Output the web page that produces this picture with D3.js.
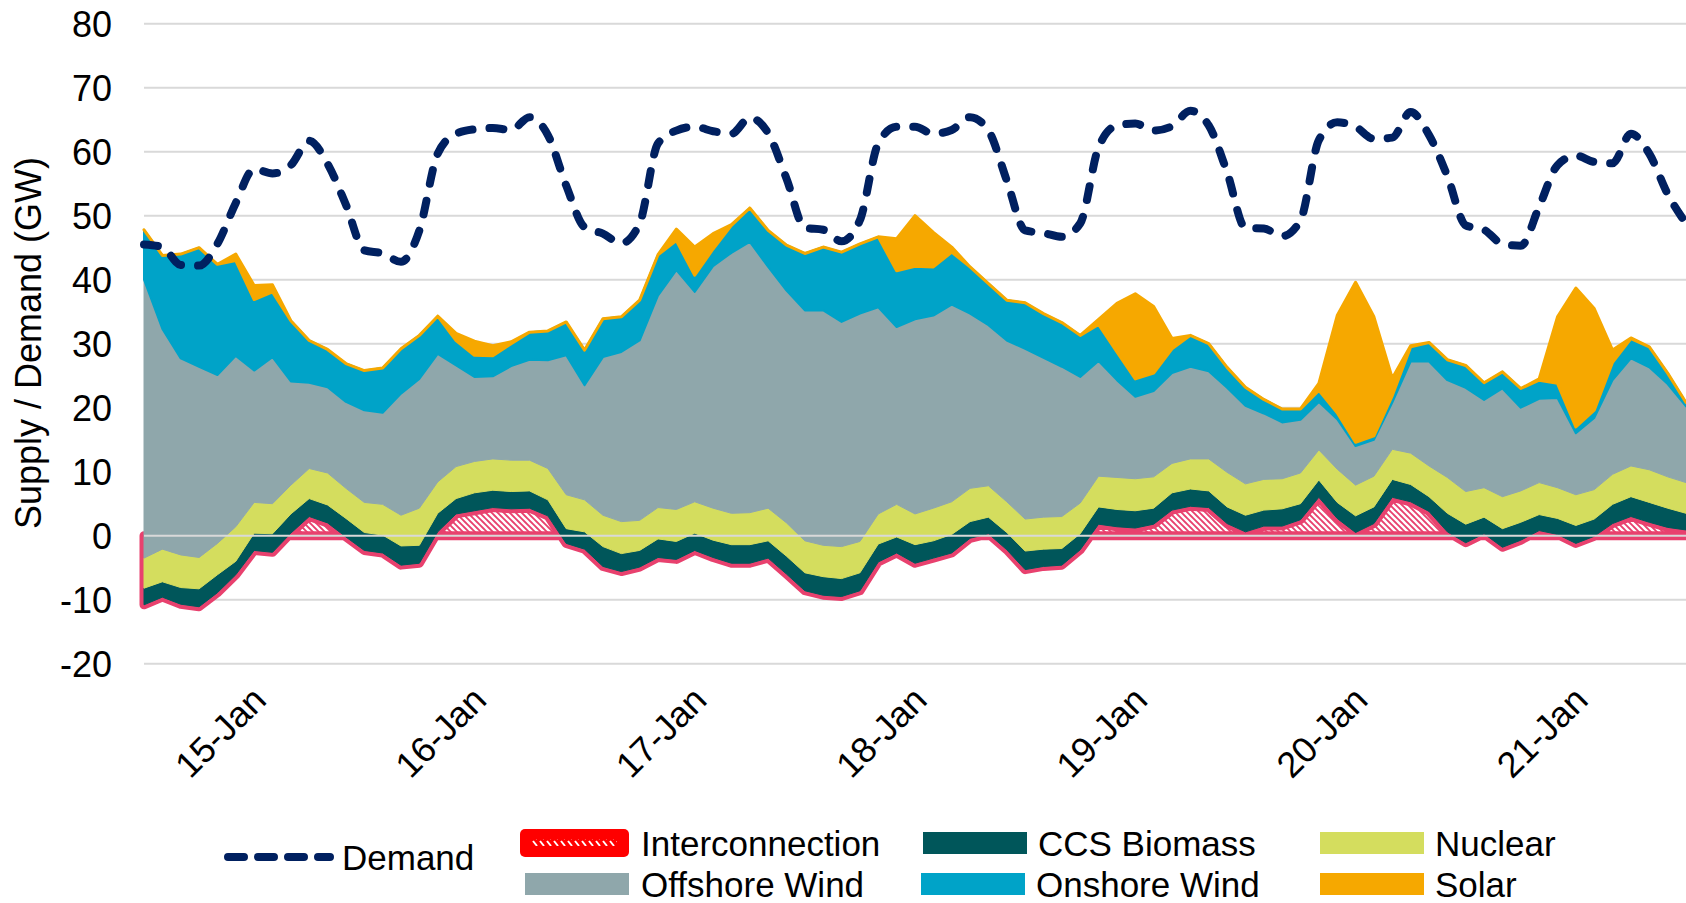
<!DOCTYPE html>
<html>
<head>
<meta charset="utf-8">
<script src="https://cdn.jsdelivr.net/npm/d3@7/dist/d3.min.js"></script>
<style>
  body { margin: 0; background: #fff; }
  text { font-family: "Liberation Sans", Arial, sans-serif; fill: #000; }
</style>
</head>
<body>
<svg id="chart"></svg>
<script>
// hours since 15-Jan 00:00, one point every 2 hours
var hours = d3.range(0, 169, 2);

var dayLabels = ["15-Jan", "16-Jan", "17-Jan", "18-Jan", "19-Jan", "20-Jan", "21-Jan"];
var yTicks = [-20, -10, 0, 10, 20, 30, 40, 50, 60, 70, 80];

// GW
var interconnection = [-10.8, -9.6, -10.7, -11.1, -8.9, -6.1, -2.3, -2.6, 0.4, 3.0,
  2.0, -0.2, -2.3, -2.7, -4.6, -4.3, 0.6, 3.4, 3.9, 4.4,
  4.2, 4.3, 3.1, -1.2, -2.1, -4.8, -5.6, -4.9, -3.4, -3.7,
  -2.3, -3.4, -4.3, -4.3, -3.5, -6.0, -8.6, -9.3, -9.5, -8.6,
  -4.1, -2.7, -4.3, -3.5, -2.7, -0.4, 0.3, -2.2, -5.3, -4.8,
  -4.6, -2.2, 1.8, 1.4, 1.2, 1.8, 4.0, 4.6, 4.4, 1.9,
  0.6, 1.5, 1.5, 2.5, 6.0, 2.7, 0.5, 1.9, 6.0, 5.3,
  3.8, 0.6, -1.1, 0.3, -1.8, -0.7, 0.8, 0.2, -1.2, -0.1,
  1.9, 3.0, 2.1, 1.3, 0.9];

var ccsBiomass = [2.6, 2.4, 2.6, 2.8, 2.8, 2.1, 2.7, 2.9, 3.0, 2.8,
  2.8, 2.9, 2.8, 2.8, 3.0, 2.8, 2.9, 2.4, 2.8, 2.7,
  2.7, 2.7, 2.5, 2.3, 2.7, 3.1, 2.8, 2.6, 2.9, 2.8,
  2.7, 2.7, 2.9, 2.9, 2.7, 2.8, 2.8, 2.9, 2.8, 2.8,
  2.8, 2.5, 2.9, 2.7, 2.9, 2.6, 2.6, 2.7, 2.9, 2.7,
  2.6, 2.5, 2.7, 2.7, 2.7, 2.5, 2.7, 2.7, 2.6, 2.6,
  2.6, 2.5, 2.7, 2.5, 2.7, 2.5, 2.6, 2.6, 2.8, 2.7,
  2.3, 2.9, 2.9, 2.6, 2.9, 2.8, 2.5, 2.5, 2.8, 2.7,
  3.0, 3.1, 3.1, 3.0, 2.6];

var nuclear = [4.7, 5.1, 5.1, 4.9, 4.9, 5.4, 4.8, 4.7, 4.5, 4.7,
  5.0, 4.7, 4.7, 4.8, 4.8, 5.8, 4.9, 5.0, 4.9, 4.9,
  4.9, 4.8, 4.9, 5.3, 5.0, 4.9, 5.0, 4.7, 4.9, 5.0,
  4.9, 5.0, 4.9, 5.0, 5.1, 5.2, 5.0, 4.9, 5.0, 4.9,
  4.7, 5.1, 4.8, 5.1, 5.1, 5.2, 4.9, 4.8, 5.0, 5.0,
  5.0, 4.8, 4.8, 5.0, 5.0, 4.9, 4.6, 4.7, 5.0, 5.4,
  4.9, 4.8, 4.7, 4.8, 4.7, 5.2, 4.8, 4.8, 4.7, 4.9,
  4.8, 5.6, 5.1, 4.6, 5.0, 4.9, 5.0, 4.8, 4.8, 4.6,
  4.7, 4.8, 5.1, 4.9, 4.8];

var offshoreWind = [43.5, 34.4, 30.7, 29.8, 26.3, 26.7, 20.6, 22.9, 16.2, 13.4,
  13.4, 13.5, 14.4, 14.3, 19.0, 20.2, 20.0, 15.8, 13.2, 12.9,
  14.7, 15.7, 16.9, 21.8, 17.9, 24.7, 26.5, 28.1, 33.1, 37.4,
  32.8, 37.8, 40.7, 42.3, 37.7, 36.3, 36.0, 36.7, 35.1, 35.6,
  32.3, 27.7, 30.4, 30.1, 30.8, 27.3, 25.1, 25.2, 26.6, 24.9,
  23.4, 19.7, 18.0, 15.2, 12.8, 13.4, 14.1, 14.4, 13.7, 13.2,
  12.2, 10.3, 8.8, 8.3, 7.5, 7.8, 6.1, 5.7, 7.3, 14.3,
  16.3, 15.2, 16.2, 13.7, 16.9, 13.0, 13.1, 14.0, 9.6, 11.2,
  14.7, 16.8, 16.0, 14.5, 11.9];

var onshoreWind = [7.8, 11.5, 16.3, 18.6, 17.3, 14.9, 11.1, 10.2, 9.5, 6.6,
  5.9, 6.0, 6.2, 7.0, 7.0, 6.8, 5.9, 3.9, 3.4, 3.2,
  3.5, 4.3, 4.6, 5.2, 5.5, 6.0, 5.5, 6.3, 6.4, 4.6,
  2.6, 2.7, 4.3, 5.3, 5.7, 7.1, 8.9, 9.9, 10.9, 10.9,
  11.0, 8.8, 8.3, 7.6, 8.2, 7.3, 6.5, 6.3, 7.2, 6.9,
  6.9, 6.5, 5.7, 4.4, 2.8, 2.8, 3.8, 4.9, 4.3, 3.2,
  2.9, 2.2, 2.1, 1.7, 1.8, 1.0, 0.6, 0.6, 1.1, 2.3,
  3.0, 3.2, 3.5, 2.7, 2.6, 3.0, 2.9, 2.3, 1.0, 1.2,
  2.8, 3.1, 3.2, 1.7, 0.6];

var solar = [0, 0, 0, 0, 0, 1.0, 2.2, 1.1, 0, 0,
  0, 0, 0, 0, 0, 0, 0, 1.1, 2.2, 1.6,
  0.3, 0, 0, 0, 0, 0, 0, 0, 0, 1.8,
  4.4, 2.4, 0.1, 0, 0, 0, 0, 0, 0, 0,
  0, 5.0, 7.9, 5.4, 0.8, 0, 0, 0, 0, 0,
  0, 0, 0.8, 7.6, 13.3, 10.4, 1.6, 0, 0, 0,
  0, 0, 0, 0, 1.1, 15.2, 25.0, 18.6, 2.7, 0.2,
  0, 0, 0, 0, 0, 0, 0.2, 10.4, 21.7, 15.9,
  1.9, 0.1, 0, 0, 0];

var demand = [45.5, 45.1, 42.3, 42.2, 45.6, 52.0, 57.3, 56.6, 57.9, 61.7,
  58.1, 51.7, 44.6, 44.1, 42.8, 47.7, 59.7, 62.8, 63.5, 63.7,
  63.4, 65.4, 62.6, 54.7, 48.2, 47.2, 45.7, 48.8, 61.3, 63.3,
  63.9, 63.2, 62.8, 65.3, 62.9, 55.8, 48.1, 47.8, 46.0, 49.3,
  61.3, 63.9, 63.9, 62.8, 63.4, 65.4, 63.3, 55.5, 47.7, 47.3,
  46.7, 48.8, 60.7, 64.1, 64.4, 63.3, 64.0, 66.4, 64.1, 56.8,
  48.1, 48.0, 46.8, 49.3, 61.8, 64.6, 63.9, 62.0, 62.2, 66.2,
  62.6, 56.2, 48.5, 47.8, 45.6, 45.3, 51.4, 57.9, 59.4, 58.4,
  58.2, 62.8, 59.7, 53.4, 48.8];

var W = 1686, H = 903;
var svg = d3.select("#chart").attr("width", W).attr("height", H);

var x = d3.scaleLinear().domain([0, 168]).range([144, 1686]);
var y = d3.scaleLinear().domain([-20, 80]).range([663.7, 23.7]);

// hatch for interconnection
var defs = svg.append("defs");
var pat = defs.append("pattern").attr("id", "hatch")
  .attr("patternUnits", "userSpaceOnUse").attr("width", 6).attr("height", 6);
pat.append("rect").attr("width", 6).attr("height", 6).attr("fill", "#e8416e");
pat.append("path").attr("d", "M-3,3 L3,9 M0,0 L6,6 M3,-3 L9,3")
  .attr("stroke", "#fff").attr("stroke-width", 2.3);

var pat2 = defs.append("pattern").attr("id", "hatchLegend")
  .attr("patternUnits", "userSpaceOnUse").attr("width", 7).attr("height", 7);
pat2.append("path").attr("d", "M1,1 L5,6").attr("stroke", "#fff").attr("stroke-width", 2);

// gridlines (zero line drawn later, on top)
svg.append("g").selectAll("line").data(yTicks.filter(d => d != 0)).join("line")
  .attr("x1", 144).attr("x2", W)
  .attr("y1", d => y(d)).attr("y2", d => y(d))
  .attr("stroke", "#d9d9d9").attr("stroke-width", 2);

svg.append("g").selectAll("text").data(yTicks).join("text")
  .attr("x", 112).attr("y", d => y(d)).attr("dy", "0.36em")
  .attr("text-anchor", "end").style("font-size", "36px")
  .text(d => d);

svg.append("text")
  .attr("transform", "translate(41,343) rotate(-90)")
  .attr("text-anchor", "middle").style("font-size", "36px")
  .text("Supply / Demand (GW)");

// stacked like excel: each series sits on the running total of the ones before
var series = [
  {name: "Interconnection", values: interconnection, fill: "url(#hatch)", stroke: "#e8416e", sw: 9},
  {name: "CCS Biomass", values: ccsBiomass, fill: "#00565a", stroke: "#00565a", sw: 1},
  {name: "Nuclear", values: nuclear, fill: "#d4dd5e", stroke: "#d4dd5e", sw: 1},
  {name: "Offshore Wind", values: offshoreWind, fill: "#8fa7ab", stroke: "#8fa7ab", sw: 1},
  {name: "Onshore Wind", values: onshoreWind, fill: "#00a3c8", stroke: "#00a3c8", sw: 2},
  {name: "Solar", values: solar, fill: "#f6a800", stroke: "#f6a800", sw: 3}
];

var base = hours.map(() => 0);
series.forEach(function(s) {
  s.lo = base.slice();
  s.hi = base.map((b, i) => b + s.values[i]);
  base = s.hi;
});

var gArea = svg.append("g");
series.forEach(function(s) {
  var area = d3.area()
    .x((d, i) => x(hours[i]))
    .y0((d, i) => y(s.lo[i]))
    .y1((d, i) => y(s.hi[i]));
  gArea.append("path")
    .attr("d", area(hours))
    .attr("fill", s.fill)
    .attr("stroke", s.stroke)
    .attr("stroke-width", s.sw)
    .attr("stroke-linejoin", "round");
});

svg.append("line")
  .attr("x1", 144).attr("x2", W).attr("y1", y(0)).attr("y2", y(0))
  .attr("stroke", "#d9d9d9").attr("stroke-width", 2);

// demand
var line = d3.line()
  .x((d, i) => x(hours[i]))
  .y(d => y(d))
  .curve(d3.curveMonotoneX);

svg.append("path")
  .attr("d", line(demand))
  .attr("fill", "none")
  .attr("stroke", "#002060")
  .attr("stroke-width", 8)
  .attr("stroke-linecap", "round")
  .attr("stroke-dasharray", "14 17");

// day labels at noon
svg.append("g").selectAll("text").data(dayLabels).join("text")
  .attr("transform", (d, i) => "translate(" + (x(12 + 24 * i) + 14) + ",702) rotate(-45)")
  .attr("text-anchor", "end").style("font-size", "36px")
  .text(d => d);

// legend
var lg = svg.append("g");
lg.append("line").attr("x1", 228).attr("x2", 330).attr("y1", 857).attr("y2", 857)
  .attr("stroke", "#002060").attr("stroke-width", 8)
  .attr("stroke-linecap", "round").attr("stroke-dasharray", "16 14");
lg.append("text").attr("x", 342).attr("y", 857).attr("dy", "0.36em")
  .style("font-size", "35px").text("Demand");

var legendItems = [
  {name: "Interconnection", color: "#ff0000", x: 520, y: 843},
  {name: "Offshore Wind", color: "#8fa7ab", x: 525, y: 884},
  {name: "CCS Biomass", color: "#00565a", x: 923, y: 843},
  {name: "Onshore Wind", color: "#00a3c8", x: 921, y: 884},
  {name: "Nuclear", color: "#d4dd5e", x: 1320, y: 843},
  {name: "Solar", color: "#f6a800", x: 1320, y: 884}
];

legendItems.forEach(function(d) {
  if (d.name == "Interconnection") {
    lg.append("rect").attr("x", d.x).attr("y", d.y - 14).attr("width", 109).attr("height", 28)
      .attr("rx", 5).attr("fill", d.color);
    lg.append("rect").attr("x", d.x + 12).attr("y", d.y - 4).attr("width", 85).attr("height", 7)
      .attr("fill", "url(#hatchLegend)");
  } else {
    lg.append("rect").attr("x", d.x).attr("y", d.y - 11).attr("width", 104).attr("height", 22)
      .attr("fill", d.color);
  }
  lg.append("text").attr("x", d.name == "Interconnection" || d.name == "Offshore Wind" ? 641 : d.x + 115)
    .attr("y", d.y).attr("dy", "0.36em")
    .style("font-size", "35px").text(d.name);
});
</script>
</body>
</html>
